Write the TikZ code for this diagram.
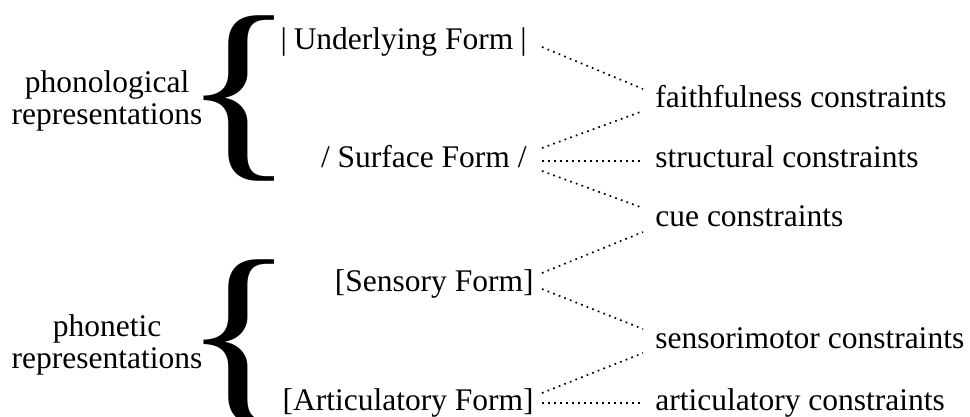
\documentclass[tikz,border=0pt]{standalone}
\usepackage{fontspec}
\setmainfont{Liberation Serif}
\usepackage{graphicx}
\usetikzlibrary{positioning}

\begin{document}
\begin{tikzpicture}[x=.5pt,y=-.5pt]

\def\labfont{\fontsize{15.75}{16}\selectfont}
\tikzset{
  form/.style={font=\labfont, anchor=base east, inner xsep=4pt, inner ysep=0pt, text height=10pt, text depth=3pt},
  cons/.style={font=\labfont, anchor=base west, inner xsep=6pt, inner ysep=0pt, text height=10pt, text depth=3pt},
  brace/.style={inner sep=0pt, font=\labfont, anchor=center},
  link/.style={line width=.85pt, dash pattern=on .85pt off 2.15pt},
}

\useasboundingbox (0,0) rectangle (970,417);
\clip (0,0) rectangle (970,417);

% the two groups of representations
\node[font=\labfont, align=center] (phon) at (107,101) {phonological\\representations};
\node[brace] (B1) at (239,98.5) {\scalebox{7.5}[6.35]{\{}};
\node[font=\labfont, align=center] (phnt) at (107,345) {phonetic\\representations};
\node[brace] (B2) at (239,342) {\scalebox{7.5}[6.35]{\{}};

\node[form, inner xsep=7.5pt] (UF) at (542,50) {|\hspace{.22em}Underlying Form\hspace{.22em}|};
\node[form, inner xsep=7.5pt] (SF) at (542,168) {/\hspace{.25em}Surface Form\hspace{.25em}/};
\node[form] (SeF) at (542,292) {[Sensory Form]};
\node[form] (AF) at (542,410) {[Articulatory Form]};

% constraints
\node[cons] (faith) at (643,108) {faithfulness constraints};
\node[cons] (struct) at (643,168) {structural constraints};
\node[cons] (cue) at (643,227) {cue constraints};
\node[cons] (smot) at (643,348) {sensorimotor constraints};
\node[cons] (artic) at (643,410) {articulatory constraints};

\draw[link] ([yshift=-2pt]UF.east) -- ([yshift=6pt]faith.west);
\draw[link] ([yshift=6.5pt]SF.east) -- ([yshift=-5pt]faith.west);
\draw[link] (SF.east) -- (struct.west);
\draw[link] ([yshift=-5pt]SF.east) -- ([yshift=6pt]cue.west);
\draw[link] ([yshift=6pt]SeF.east) -- ([yshift=-6pt]cue.west);
\draw[link] ([yshift=-2pt]SeF.east) -- ([yshift=6pt]smot.west);
\draw[link] ([yshift=5pt]AF.east) -- ([yshift=-6pt]smot.west);
\draw[link] (AF.east) -- (artic.west);
\end{tikzpicture}
\end{document}
